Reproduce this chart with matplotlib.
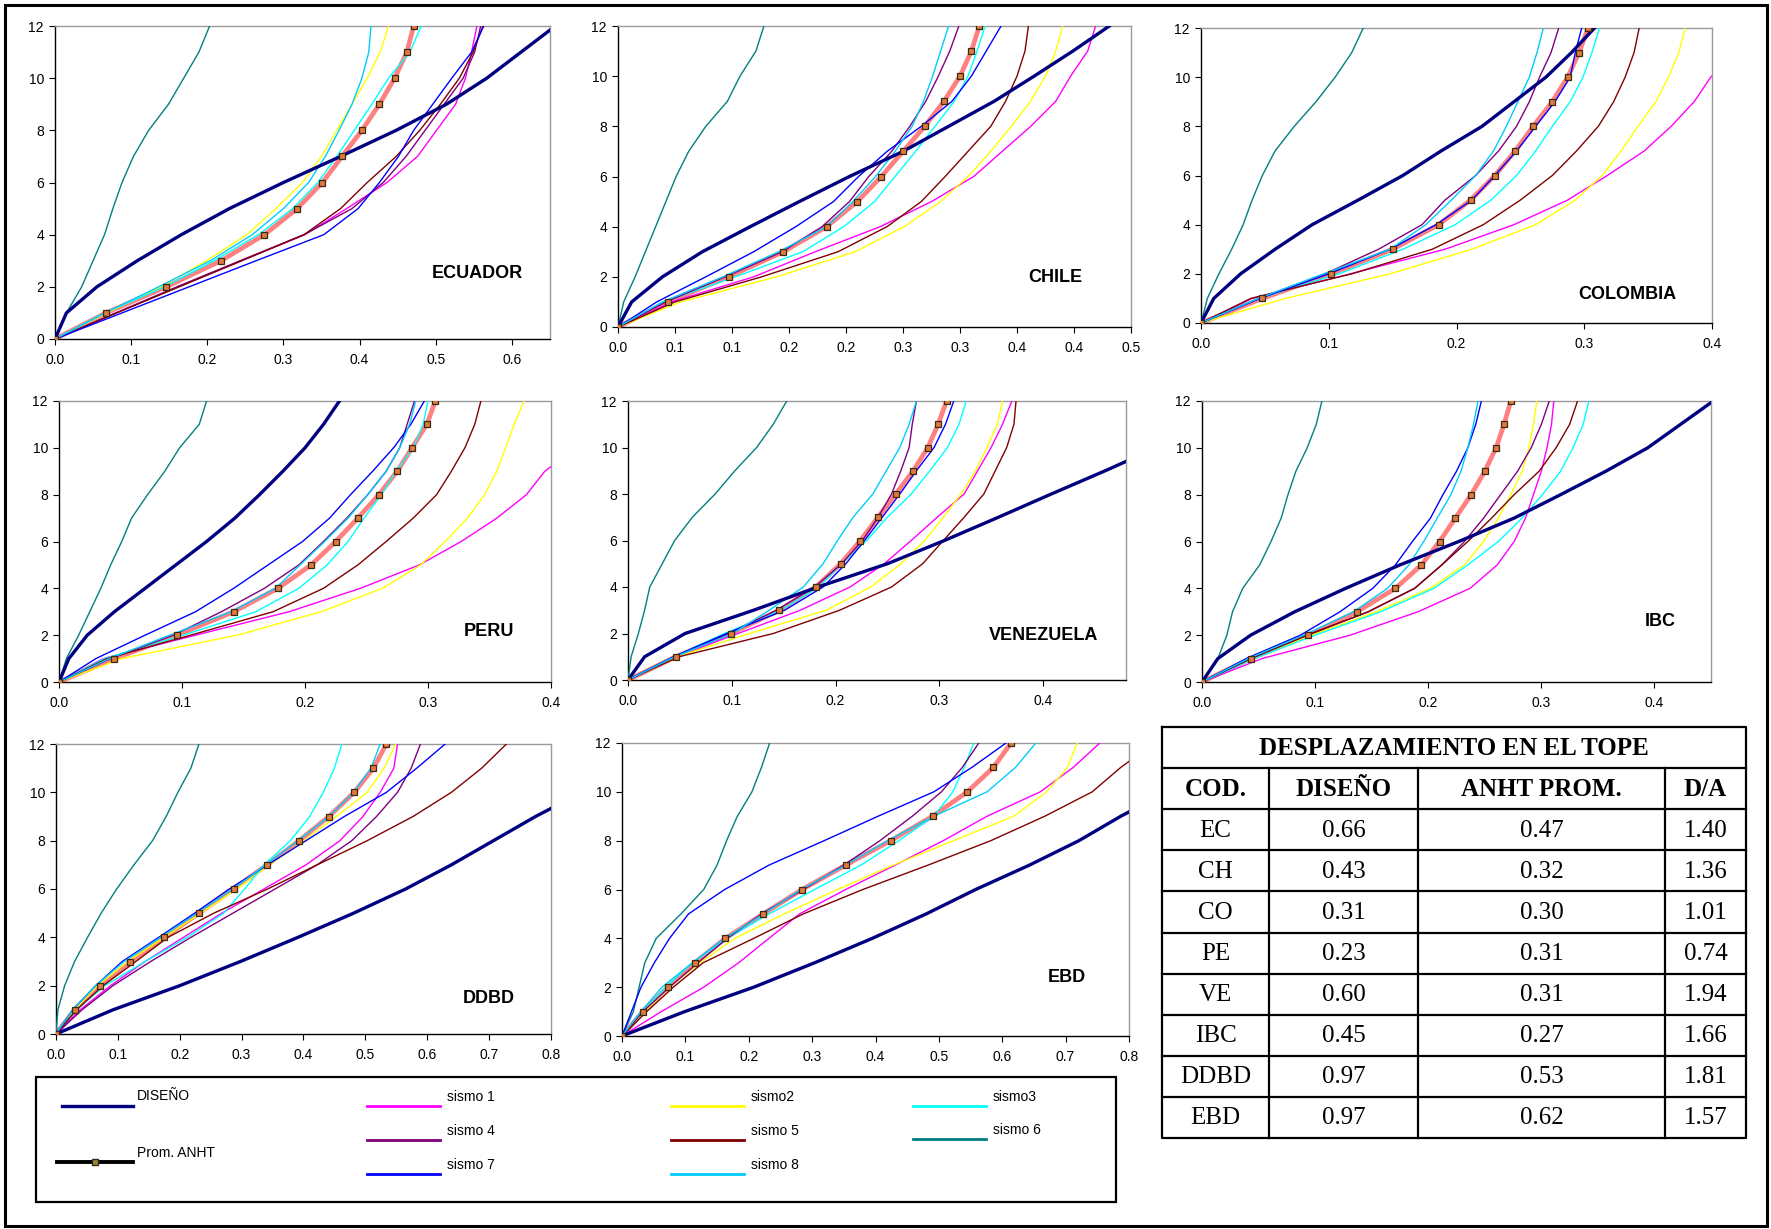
import matplotlib.pyplot as plt
from matplotlib.patches import Rectangle

plt.rcParams['font.family'] = ['Liberation Sans', 'DejaVu Sans']

# DATOS: desplazamiento (m) por nivel, 0..12
niveles = list(range(13))

ecuador = {
    'diseno': [0, .015, .055, .108, .166, .229, .300, .375, .448, .514, .567, .612, .657],
    'prom':   [0, .067, .146, .218, .275, .318, .351, .377, .403, .426, .446, .462, .471],
    's1': [0, .080, .162, .245, .328, .383, .436, .476, .501, .526, .539, .547, .554],
    's2': [0, .068, .139, .199, .252, .290, .325, .350, .370, .390, .410, .427, .438],
    's3': [0, .065, .144, .209, .267, .312, .345, .370, .393, .416, .438, .466, .481],
    's4': [0, .080, .160, .243, .327, .390, .431, .461, .486, .511, .536, .551, .559],
    's5': [0, .081, .163, .245, .327, .375, .410, .448, .479, .506, .531, .549, .562],
    's6': [0, .015, .035, .050, .065, .076, .088, .103, .123, .149, .169, .189, .203],
    's7': [0, .088, .176, .264, .353, .398, .426, .451, .471, .496, .521, .547, .563],
    's8': [0, .066, .136, .204, .259, .300, .333, .355, .373, .390, .403, .412, .415],
}
chile = {
    'diseno': [0, .012, .039, .074, .116, .159, .203, .250, .290, .330, .365, .399, .431],
    'prom':   [0, .044, .097, .145, .183, .210, .231, .250, .269, .286, .300, .310, .317],
    's1': [0, .047, .119, .173, .230, .275, .312, .337, .362, .384, .397, .412, .419],
    's2': [0, .055, .139, .208, .251, .283, .307, .327, .345, .362, .375, .384, .390],
    's3': [0, .040, .103, .162, .198, .225, .243, .261, .278, .295, .307, .315, .322],
    's4': [0, .042, .094, .144, .179, .203, .220, .240, .256, .270, .281, .291, .299],
    's5': [0, .050, .126, .193, .236, .266, .287, .307, .327, .340, .350, .357, .360],
    's6': [0, .005, .015, .024, .033, .042, .051, .062, .077, .096, .107, .121, .128],
    's7': [0, .034, .077, .119, .156, .189, .211, .236, .266, .293, .310, .323, .336],
    's8': [0, .039, .092, .141, .183, .206, .226, .243, .258, .268, .276, .283, .290],
}
colombia = {
    'diseno': [0, .010, .031, .058, .087, .123, .158, .188, .220, .245, .270, .290, .308],
    'prom':   [0, .048, .102, .150, .186, .211, .230, .246, .260, .275, .287, .296, .303],
    's1': [0, .040, .117, .191, .245, .287, .318, .347, .368, .386, .399, .420, .440],
    's2': [0, .066, .148, .212, .262, .293, .314, .329, .342, .356, .366, .374, .379],
    's3': [0, .045, .108, .158, .199, .227, .247, .262, .275, .289, .299, .306, .312],
    's4': [0, .046, .097, .139, .173, .191, .215, .233, .247, .257, .265, .274, .280],
    's5': [0, .039, .118, .181, .221, .250, .275, .294, .311, .323, .332, .339, .343],
    's6': [0, .005, .014, .024, .033, .040, .048, .058, .073, .090, .105, .118, .127],
    's7': [0, .046, .100, .148, .184, .212, .230, .247, .262, .277, .289, .293, .298],
    's8': [0, .045, .096, .148, .176, .196, .215, .229, .239, .248, .257, .263, .268],
}
peru = {
    'diseno': [0, .008, .023, .045, .070, .095, .120, .143, .163, .182, .200, .215, .228],
    'prom':   [0, .045, .096, .142, .178, .205, .225, .243, .260, .275, .287, .299, .306],
    's1': [0, .036, .111, .187, .245, .293, .327, .356, .380, .395, .420, .440, .460],
    's2': [0, .051, .145, .213, .263, .294, .314, .332, .346, .356, .363, .370, .378],
    's3': [0, .037, .101, .160, .195, .218, .235, .248, .262, .274, .288, .296, .300],
    's4': [0, .042, .093, .132, .167, .195, .215, .234, .251, .266, .277, .283, .289],
    's5': [0, .039, .107, .174, .215, .243, .266, .288, .307, .319, .330, .338, .343],
    's6': [0, .006, .016, .025, .034, .042, .051, .059, .072, .086, .098, .114, .120],
    's7': [0, .030, .070, .111, .142, .170, .198, .220, .237, .255, .272, .286, .297],
    's8': [0, .041, .090, .140, .176, .196, .216, .235, .251, .266, .277, .285, .290],
}
venezuela = {
    'diseno': [0, .016, .055, .121, .183, .250, .305, .357, .408, .460, .510, .555, .600],
    'prom':   [0, .046, .099, .146, .181, .205, .224, .241, .258, .275, .289, .299, .307],
    's1': [0, .045, .106, .166, .214, .247, .273, .298, .324, .337, .350, .361, .370],
    's2': [0, .047, .117, .191, .234, .263, .286, .304, .321, .335, .346, .356, .361],
    's3': [0, .044, .093, .147, .184, .206, .230, .250, .273, .291, .308, .319, .326],
    's4': [0, .044, .097, .143, .180, .206, .226, .241, .254, .263, .271, .274, .278],
    's5': [0, .049, .140, .204, .254, .284, .304, .324, .343, .354, .365, .372, .374],
    's6': [0, .003, .010, .016, .021, .033, .045, .062, .084, .103, .124, .140, .153],
    's7': [0, .044, .095, .151, .188, .210, .228, .245, .262, .278, .295, .306, .314],
    's8': [0, .045, .101, .136, .169, .188, .202, .217, .236, .249, .262, .271, .278],
}
ibc = {
    'diseno': [0, .014, .043, .082, .127, .175, .227, .276, .317, .357, .394, .423, .452],
    'prom':   [0, .043, .094, .137, .171, .194, .210, .224, .238, .250, .260, .267, .273],
    's1': [0, .053, .131, .191, .237, .261, .276, .286, .293, .300, .305, .309, .311],
    's2': [0, .044, .097, .154, .202, .232, .249, .262, .273, .283, .289, .293, .296],
    's3': [0, .046, .100, .158, .205, .235, .262, .283, .301, .317, .328, .337, .342],
    's4': [0, .043, .093, .147, .188, .212, .232, .249, .264, .279, .291, .300, .307],
    's5': [0, .043, .093, .147, .188, .212, .235, .256, .276, .298, .313, .325, .332],
    's6': [0, .014, .022, .027, .036, .051, .061, .070, .076, .083, .093, .101, .106],
    's7': [0, .039, .087, .122, .151, .171, .186, .202, .213, .225, .235, .242, .247],
    's8': [0, .041, .090, .134, .164, .183, .196, .208, .220, .229, .235, .240, .244],
}
ddbd = {
    'diseno': [0, .092, .200, .298, .391, .481, .565, .639, .707, .775, .850, .910, .970],
    'prom':   [0, .030, .071, .120, .175, .231, .287, .341, .393, .441, .482, .513, .534],
    's1': [0, .039, .088, .144, .206, .268, .336, .404, .459, .496, .524, .546, .552],
    's2': [0, .030, .067, .116, .175, .234, .292, .345, .401, .453, .503, .530, .549],
    's3': [0, .033, .079, .144, .212, .271, .305, .336, .379, .410, .432, .450, .462],
    's4': [0, .042, .092, .153, .218, .286, .354, .422, .478, .518, .552, .574, .589],
    's5': [0, .033, .076, .129, .181, .255, .342, .422, .503, .577, .639, .688, .728],
    's6': [0, .003, .014, .030, .051, .073, .098, .126, .156, .178, .197, .218, .231],
    's7': [0, .027, .064, .107, .166, .224, .280, .342, .404, .466, .534, .583, .629],
    's8': [0, .027, .064, .110, .169, .228, .286, .339, .391, .441, .481, .509, .524],
}
ebd = {
    'diseno': [0, .099, .208, .304, .395, .480, .558, .643, .721, .787, .860, .915, .970],
    'prom':   [0, .033, .072, .115, .163, .223, .284, .353, .424, .490, .545, .586, .614],
    's1': [0, .062, .129, .184, .232, .280, .353, .431, .507, .576, .660, .712, .754],
    's2': [0, .036, .075, .123, .178, .256, .340, .428, .523, .618, .670, .703, .718],
    's3': [0, .033, .069, .111, .166, .232, .304, .377, .437, .492, .522, .540, .555],
    's4': [0, .033, .075, .120, .166, .220, .286, .350, .407, .458, .504, .537, .563],
    's5': [0, .039, .081, .128, .208, .286, .380, .483, .582, .667, .742, .787, .840],
    's6': [0, .018, .027, .036, .054, .093, .129, .150, .165, .182, .205, .220, .233],
    's7': [0, .015, .030, .051, .075, .105, .162, .232, .319, .404, .492, .552, .606],
    's8': [0, .030, .063, .111, .162, .223, .283, .353, .419, .492, .576, .621, .653],
}

# tabla resumen
cod = ['EC', 'CH', 'CO', 'PE', 'VE', 'IBC', 'DDBD', 'EBD']
tope_diseno = [0.66, 0.43, 0.31, 0.23, 0.60, 0.45, 0.97, 0.97]
tope_anht = [0.47, 0.32, 0.30, 0.31, 0.31, 0.27, 0.53, 0.62]
d_a = [1.40, 1.36, 1.01, 0.74, 1.94, 1.66, 1.81, 1.57]

ticks_01 = [0.0, 0.1, 0.2, 0.3, 0.4]
ticks_chile = [0, .05, .10, .15, .20, .25, .30, .35, .40, .45]
labels_chile = ['0.0', '0.1', '0.1', '0.2', '0.2', '0.3', '0.3', '0.4', '0.4', '0.5']

sismos = ['s1', 's2', 's3', 's4', 's5', 's6', 's7', 's8']
nombres = {'s1': 'sismo 1', 's2': 'sismo2', 's3': 'sismo3', 's4': 'sismo 4',
           's5': 'sismo 5', 's6': 'sismo 6', 's7': 'sismo 7', 's8': 'sismo 8'}
colores = {'s1': '#FF00FF', 's2': '#FFFF00', 's3': '#00FFFF', 's4': '#800080',
           's5': '#800000', 's6': '#008080', 's7': '#0000FF', 's8': '#00CCFF'}
c_diseno = '#000080'
c_prom = '#FF8080'

W, H = 1771, 1229
fig = plt.figure(figsize=(W / 100, H / 100), dpi=100)


def caja(l, t, r, b):
    return [l / W, 1 - b / H, (r - l) / W, (b - t) / H]


# nombre, datos, caja (px), xmax, ticks, etiquetas, posicion del titulo
paneles = [
    ('ECUADOR', ecuador, (55, 26, 550, 339), 0.65, [0, .1, .2, .3, .4, .5, .6], None, (0.854, 0.21)),
    ('CHILE', chile, (618, 26, 1131, 327), 0.45, ticks_chile, labels_chile, (0.852, 0.166)),
    ('COLOMBIA', colombia, (1201, 28, 1712, 323), 0.40, ticks_01, None, (0.834, 0.095)),
    ('PERU', peru, (59, 401, 551, 682), 0.40, ticks_01, None, (0.874, 0.178)),
    ('VENEZUELA', venezuela, (628, 401, 1126, 680), 0.48, ticks_01, None, (0.834, 0.161)),
    ('IBC', ibc, (1202, 401, 1711, 682), 0.45, ticks_01, None, (0.90, 0.217)),
    ('DDBD', ddbd, (56, 744, 551, 1034), 0.80, [0, .1, .2, .3, .4, .5, .6, .7, .8], None, (0.875, 0.124)),
    ('EBD', ebd, (622, 743, 1129, 1036), 0.80, [0, .1, .2, .3, .4, .5, .6, .7, .8], None, (0.878, 0.20)),
]

for nombre, d, box, xmax, xt, xl, pos in paneles:
    ax = fig.add_axes(caja(*box))
    ax.plot(d['prom'], niveles, color=c_prom, lw=3.4, zorder=2)
    for k in sismos:
        ax.plot(d[k], niveles, color=colores[k], lw=1.0, zorder=3)
    ax.plot(d['diseno'], niveles, color=c_diseno, lw=2.4, zorder=4)
    ax.plot(d['prom'], niveles, ls='none', marker='s', ms=4, mfc='#E07840',
            mec='#3a2a10', mew=0.9, zorder=5)
    ax.set_xlim(0, xmax)
    ax.set_ylim(0, 12)
    ax.set_xticks(xt)
    if xl is None:
        ax.set_xticklabels(['%.1f' % v for v in xt])
    else:
        ax.set_xticklabels(xl)
    ax.set_yticks(range(0, 13, 2))
    ax.tick_params(direction='out', length=4, width=0.8, labelsize=10, pad=4)
    ax.tick_params(axis='x', pad=6)
    for s in ['left', 'bottom']:
        ax.spines[s].set_color('black')
        ax.spines[s].set_linewidth(1.0)
    for s in ['top', 'right']:
        ax.spines[s].set_color('#9a9a9a')
        ax.spines[s].set_linewidth(1.0)
    ax.text(pos[0], pos[1], nombre, transform=ax.transAxes, ha='center', va='center',
            fontsize=13, fontweight='bold')

# capa superior en pixeles: marco, leyenda y tabla
ov = fig.add_axes([0, 0, 1, 1])
ov.set_xlim(0, W)
ov.set_ylim(H, 0)
ov.axis('off')
ov.patch.set_alpha(0)

ov.add_patch(Rectangle((5, 5), 1762, 1221, fill=False, lw=2.2, ec='black'))

# leyenda
ov.add_patch(Rectangle((36, 1077), 1080, 125, fill=False, lw=1.6, ec='black'))
fs_leg = 10
ov.plot([62, 133], [1106, 1106], color=c_diseno, lw=2.4)
ov.text(137, 1096, 'DISEÑO', fontsize=fs_leg, va='center')
ov.plot([57, 133], [1162, 1162], color='black', lw=2.8)
ov.plot([95], [1162], ls='none', marker='s', ms=4, mfc='#9a8a40', mec='#3a2a10')
ov.text(137, 1153, 'Prom. ANHT', fontsize=fs_leg, va='center')
leg_pos = {'s1': (367, 1106), 's4': (367, 1140), 's7': (367, 1174),
           's2': (671, 1106), 's5': (671, 1140), 's8': (671, 1174),
           's3': (913, 1106), 's6': (913, 1139)}
for k in sismos:
    x0, y0 = leg_pos[k]
    ov.plot([x0, x0 + 73], [y0, y0], color=colores[k], lw=2.0)
    ov.text(x0 + 80, y0 - 9, nombres[k], fontsize=fs_leg, va='center')

# tabla
col_x = [1162, 1269, 1418, 1665, 1746]
row_y = [727 + 41.1 * i for i in range(11)]
lw_t = 1.6
ov.plot([col_x[0], col_x[-1], col_x[-1], col_x[0], col_x[0]],
        [row_y[0], row_y[0], row_y[-1], row_y[-1], row_y[0]], color='black', lw=lw_t)
for y in row_y[1:-1]:
    ov.plot([col_x[0], col_x[-1]], [y, y], color='black', lw=lw_t)
for x in col_x[1:-1]:
    ov.plot([x, x], [row_y[1], row_y[-1]], color='black', lw=lw_t)

fs_t = 18
ov.text((col_x[0] + col_x[-1]) / 2, (row_y[0] + row_y[1]) / 2 + 1, 'DESPLAZAMIENTO EN EL TOPE',
        family='Liberation Serif', fontweight='bold', fontsize=fs_t, ha='center', va='center')
encabezado = ['COD.', 'DISEÑO', 'ANHT PROM.', 'D/A']
for j, t in enumerate(encabezado):
    ov.text((col_x[j] + col_x[j + 1]) / 2, (row_y[1] + row_y[2]) / 2 + 1, t,
            family='Liberation Serif', fontweight='bold', fontsize=fs_t, ha='center', va='center')
for i in range(len(cod)):
    yc = (row_y[i + 2] + row_y[i + 3]) / 2 + 1
    fila = [cod[i], '%.2f' % tope_diseno[i], '%.2f' % tope_anht[i], '%.2f' % d_a[i]]
    for j, t in enumerate(fila):
        ov.text((col_x[j] + col_x[j + 1]) / 2, yc, t, family='Liberation Serif',
                fontsize=fs_t, ha='center', va='center')

fig.savefig('out.png', dpi=100)
